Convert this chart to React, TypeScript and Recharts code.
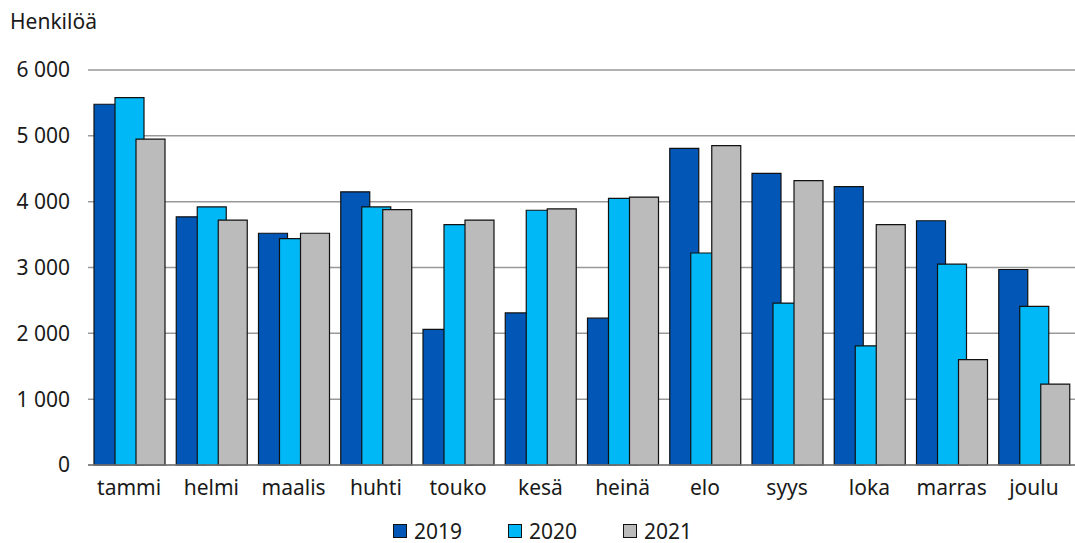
import React from 'react';
import {
  BarChart,
  Bar,
  XAxis,
  YAxis,
  CartesianGrid,
  Legend
} from 'recharts';

const months = ['tammi', 'helmi', 'maalis', 'huhti', 'touko', 'kesä', 'heinä', 'elo', 'syys', 'loka', 'marras', 'joulu'];
const y2019 = [5480, 3770, 3520, 4150, 2060, 2310, 2230, 4810, 4430, 4230, 3710, 2970];
const y2020 = [5580, 3920, 3440, 3920, 3650, 3870, 4050, 3220, 2460, 1810, 3050, 2410];
const y2021 = [4950, 3720, 3520, 3880, 3720, 3890, 4070, 4850, 4320, 3650, 1600, 1230];
const yTicks = [0, 1000, 2000, 3000, 4000, 5000, 6000];

const SERIES = [
  { key: '2019', color: '#0257b6' },
  { key: '2020', color: '#00b8f6' },
  { key: '2021', color: '#bbbbbb' },
];

const data = months.map((m, i) => ({
  name: m,
  '2019': y2019[i],
  '2020': y2020[i],
  '2021': y2021[i],
}));

const FONT = '"Noto Sans", sans-serif';
const TEXT = '#1a1a1a';
const SIZE = 21;

const fmt = (v: number) => String(v).replace(/\B(?=(\d{3})+(?!\d))/g, ' ');

const LegendBox = () => (
  <div style={{ display: 'flex', justifyContent: 'center', gap: 46, fontFamily: FONT, fontSize: SIZE, color: TEXT, paddingLeft: 10 }}>
    {SERIES.map(({ key, color }) => (
      <div key={key} style={{ display: 'flex', alignItems: 'center' }}>
        <span style={{ width: 12, height: 12, background: color, border: '1px solid #111', marginRight: 7, display: 'inline-block' }} />
        {key}
      </div>
    ))}
  </div>
);

export default function App() {
  return (
    <div style={{ position: 'absolute', left: 0, top: 0, width: 1075, height: 543, background: '#fff' }}>
      <div style={{ position: 'absolute', left: 10, top: 7, fontFamily: FONT, fontSize: SIZE, color: TEXT }}>Henkilöä</div>
      <BarChart
        width={1075}
        height={543}
        data={data}
        margin={{ top: 70, right: 0, left: 0, bottom: 0 }}
        barSize={29}
        barGap={-8}
      >
        <CartesianGrid horizontal vertical={false} stroke="#999" strokeWidth={1.5} />
        <XAxis
          dataKey="name"
          tickLine={false}
          axisLine={{ stroke: '#7a7a7a', strokeWidth: 1.5 }}
          tickSize={0}
          tickMargin={15}
          height={52}
          tick={{ fontFamily: FONT, fontSize: SIZE, fill: TEXT }}
        />
        <YAxis
          width={88}
          domain={[0, 6000]}
          ticks={yTicks}
          tickFormatter={fmt}
          axisLine={false}
          tickLine={false}
          tickSize={0}
          tickMargin={18}
          tick={{ fontFamily: FONT, fontSize: SIZE, fill: TEXT }}
        />
        <Legend verticalAlign="bottom" height={26} content={() => <LegendBox />} />
        {SERIES.map(({ key, color }) => (
          <Bar key={key} dataKey={key} fill={color} stroke="#111" strokeWidth={1.2} isAnimationActive={false} />
        ))}
      </BarChart>
    </div>
  );
}
